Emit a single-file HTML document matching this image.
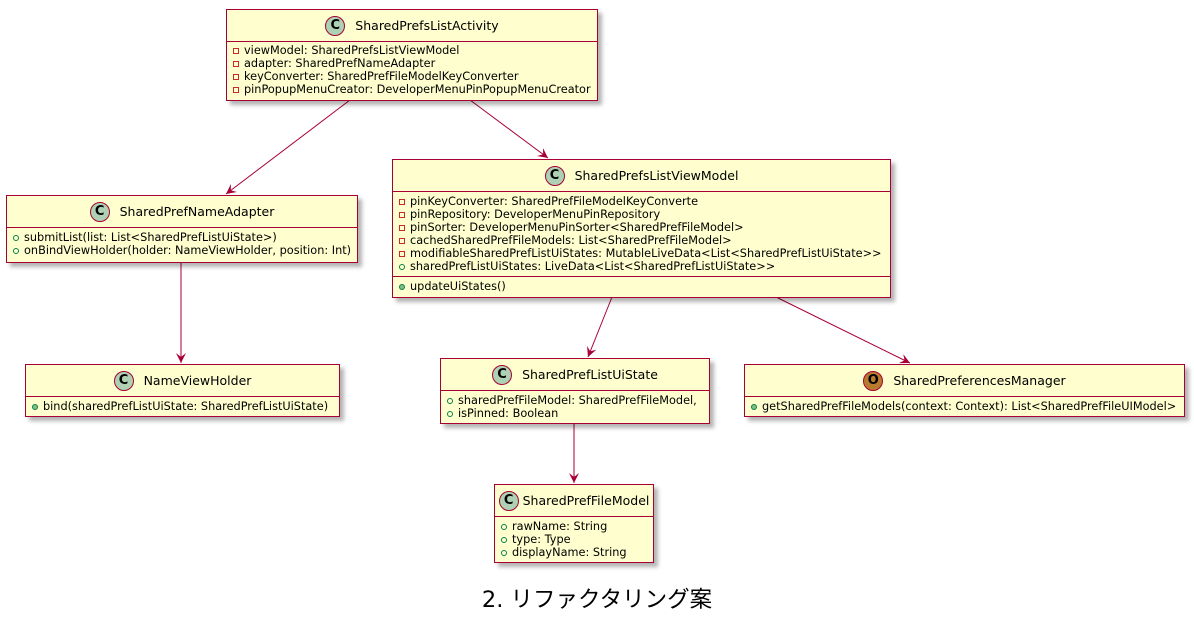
<!DOCTYPE html>
<html><head><meta charset="utf-8"><style>
body{margin:0;width:1194px;height:625px;background:#fff;position:relative;overflow:hidden;font-family:"DejaVu Sans","Liberation Sans","Noto Sans CJK JP",sans-serif;}
.b{position:absolute;background:#FEFECE;border:1.5px solid #A80036;box-shadow:4px 4px 4px rgba(0,0,0,.3);box-sizing:border-box;}
.h{height:30px;display:flex;align-items:center;justify-content:center;font-size:12.5px;color:#000;border-bottom:1.5px solid #A80036;}
.c{width:20px;height:20px;border-radius:50%;background:#ADD1B2;border:1px solid #A80036;display:inline-flex;align-items:center;justify-content:center;font-weight:bold;font-size:13px;margin-right:10px;box-sizing:border-box;}
.s{padding:3px 0 3px 6px;font-size:11.3px;line-height:13px;white-space:nowrap;}
.s+.s{border-top:1.5px solid #A80036;}
i{display:inline-block;width:6px;height:6px;margin-right:5px;vertical-align:0px;box-sizing:border-box;}
i.m{border:1px solid #C82930;}
i.p{border:1px solid #038048;border-radius:50%;}
i.f{background:#84BE84;border:1px solid #038048;border-radius:50%;}
.t{position:absolute;left:0;width:1194px;top:582px;text-align:center;font-size:22.5px;font-family:"DejaVu Sans","Noto Sans CJK JP",sans-serif;}
</style></head><body>
<svg width="1194" height="625" style="position:absolute;left:0;top:0">
<defs><marker id="a" markerWidth="12" markerHeight="10" refX="10" refY="5" orient="auto" markerUnits="userSpaceOnUse"><path d="M0,0 L10,5 L0,10 L4,5 Z" fill="#A80036"/></marker></defs>
<g stroke="#A80036" stroke-width="1" fill="none" marker-end="url(#a)">
<line x1="350" y1="100" x2="226" y2="194"/>
<line x1="470" y1="100" x2="548" y2="158"/>
<line x1="181" y1="262" x2="181" y2="363"/>
<line x1="612" y1="297" x2="588" y2="357"/>
<line x1="776" y1="297" x2="910" y2="363"/>
<line x1="574" y1="423" x2="574" y2="483"/>
</g></svg>

<div class="b" style="left:226px;top:9px;width:372px;height:92px">
<div class="h" style="height:31px"><span class="c">C</span>SharedPrefsListActivity</div>
<div class="s" style="padding-top:2px"><i class="m"></i>viewModel: SharedPrefsListViewModel<br><i class="m"></i>adapter: SharedPrefNameAdapter<br><i class="m"></i>keyConverter: SharedPrefFileModelKeyConverter<br><i class="m"></i>pinPopupMenuCreator: DeveloperMenuPinPopupMenuCreator</div>
</div>

<div class="b" style="left:6px;top:195px;width:352px;height:68px">
<div class="h" style="height:31px"><span class="c">C</span>SharedPrefNameAdapter</div>
<div class="s"><i class="p"></i>submitList(list: List&lt;SharedPrefListUiState&gt;)<br><i class="p"></i>onBindViewHolder(holder: NameViewHolder, position: Int)</div>
</div>

<div class="b" style="left:392px;top:159px;width:499px;height:139px">
<div class="h" style="height:31px"><span class="c">C</span>SharedPrefsListViewModel</div>
<div class="s"><i class="m"></i>pinKeyConverter: SharedPrefFileModelKeyConverte<br><i class="m"></i>pinRepository: DeveloperMenuPinRepository<br><i class="m"></i>pinSorter: DeveloperMenuPinSorter&lt;SharedPrefFileModel&gt;<br><i class="m"></i>cachedSharedPrefFileModels: List&lt;SharedPrefFileModel&gt;<br><i class="m"></i>modifiableSharedPrefListUiStates: MutableLiveData&lt;List&lt;SharedPrefListUiState&gt;&gt;<br><i class="p"></i>sharedPrefListUiStates: LiveData&lt;List&lt;SharedPrefListUiState&gt;&gt;</div>
<div class="s"><i class="f"></i>updateUiStates()</div>
</div>

<div class="b" style="left:25px;top:364px;width:315px;height:53px">
<div class="h" style="height:31px"><span class="c">C</span>NameViewHolder</div>
<div class="s"><i class="f"></i>bind(sharedPrefListUiState: SharedPrefListUiState)</div>
</div>

<div class="b" style="left:440px;top:358px;width:270px;height:66px">
<div class="h" style="height:31px"><span class="c">C</span>SharedPrefListUiState</div>
<div class="s"><i class="p"></i>sharedPrefFileModel: SharedPrefFileModel,<br><i class="p"></i>isPinned: Boolean</div>
</div>

<div class="b" style="left:744px;top:364px;width:441px;height:53px">
<div class="h" style="height:31px"><span class="c" style="background:#B87A2E">O</span>SharedPreferencesManager</div>
<div class="s"><i class="f"></i>getSharedPrefFileModels(context: Context): List&lt;SharedPrefFileUIModel&gt;</div>
</div>

<div class="b" style="left:494px;top:484px;width:160px;height:79px">
<div class="h" style="height:31px"><span class="c" style="margin-right:4px">C</span>SharedPrefFileModel</div>
<div class="s"><i class="p"></i>rawName: String<br><i class="p"></i>type: Type<br><i class="p"></i>displayName: String</div>
</div>

<div class="t">2. リファクタリング案</div>
</body></html>
